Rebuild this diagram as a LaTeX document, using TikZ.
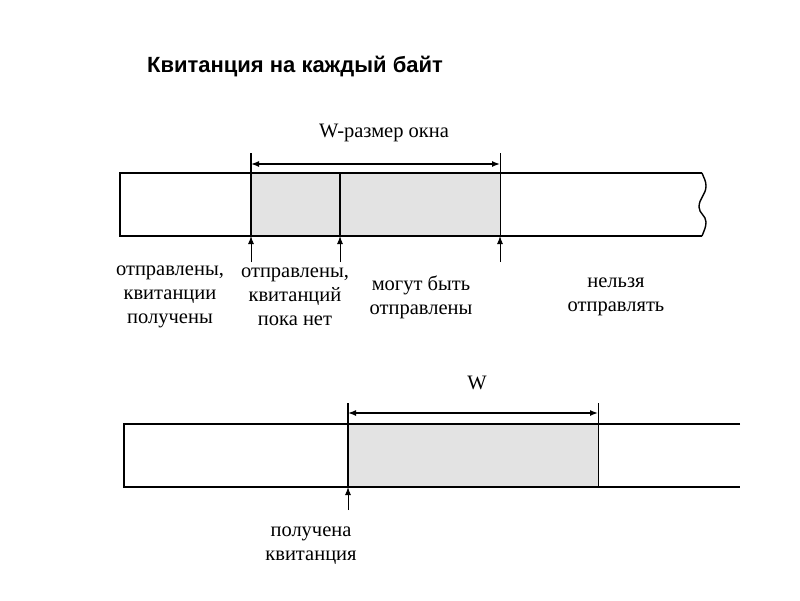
\documentclass[tikz,border=0pt]{standalone}
\usepackage{fontspec}
\setmainfont{Liberation Serif}
\newfontfamily\titlefont{Liberation Sans}
\usetikzlibrary{arrows.meta}
\definecolor{wingray}{RGB}{227,227,227}

\begin{document}
\begin{tikzpicture}[x=1pt,y=-1pt,
        bar/.style={line width=1.4pt},
        edge/.style={line width=2pt},
        tick/.style={line width=1pt},
        dim/.style={line width=1.4pt,{Latex[length=8pt,width=6pt]}-{Latex[length=8pt,width=6pt]}},
        up/.style={line width=1pt,-{Latex[length=8pt,width=6pt]}},
        lbl/.style={font=\fontsize{20.5}{24}\selectfont,align=center,inner sep=0pt}]
                \useasboundingbox (0,0) rectangle (800,600);
                \node[font=\titlefont\bfseries\fontsize{22}{26}\selectfont] (title) at (295,67) {Квитанция на каждый байт};
                % first window
                \coordinate (wa) at (251,236);
                \coordinate (wb) at (340,236);
                \coordinate (wc) at (500,236);
                \coordinate (da) at (251,164);
                \coordinate (dc) at (500,164);
                \fill[wingray] (251,173) rectangle (wc);
                \draw[bar] (702,173) -- (120,173) -- (120,236) -- (702,236);
                \draw[bar] (702,173) to[out=-70,in=90] (706,186) to[out=-90,in=90] (699,207) to[out=-90,in=90] (706,222) to[out=-90,in=70] (702,236);
                \draw[edge] (251,153) -- (wa);
                \draw[line width=1.5pt] (340,173) -- (wb);
                \draw[tick] (500,153) -- (wc);
                \draw[dim] (da) -- (dc);
                \node[lbl] (wsize) at (384,133) {W-размер окна};
                \draw[up] (251,262) -- (wa);
                \draw[up] (340,262) -- (wb);
                \draw[up] (500,262) -- (wc);
                \node[lbl] (acked) at (170,297) {отправлены,\\квитанции\\получены};
                \node[lbl] (sent) at (295,297) {отправлены,\\квитанций\\пока нет};
                \node[lbl] (canSend) at (421,297) {могут быть\\отправлены};
                \node[lbl] (noSend) at (616,297) {нельзя\\отправлять};
                % window after the acknowledgement
                \coordinate (va) at (348,487);
                \coordinate (vc) at (598,487);
                \coordinate (ea) at (348,413);
                \coordinate (ec) at (598,413);
                \fill[wingray] (348,424) rectangle (vc);
                \draw[bar] (740,424) -- (124,424) -- (124,487) -- (740,487);
                \draw[edge] (348,403) -- (va);
                \draw[tick] (598,403) -- (vc);
                \draw[dim] (ea) -- (ec);
                \node[lbl] (wlabel) at (477,383) {W};
                \draw[up] (348,510) -- (va);
                \node[lbl] (recv) at (311,546) {получена\\квитанция};
            \end{tikzpicture}
\end{document}
